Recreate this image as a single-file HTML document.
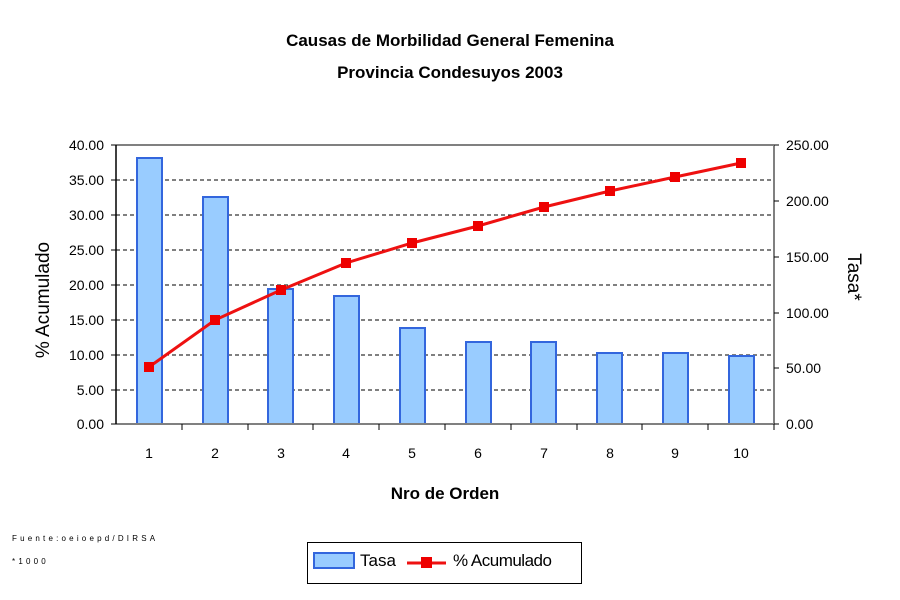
<!DOCTYPE html>
<html><head><style>body{margin:0;background:#fff}svg{display:block}text{font-family:"Liberation Sans",Arial,sans-serif}</style></head>
<body>
<svg width="900" height="600" viewBox="0 0 900 600">
<text x="450" y="46" font-size="17" font-weight="bold" text-anchor="middle">Causas de Morbilidad General Femenina</text>
<text x="450" y="78" font-size="17" font-weight="bold" text-anchor="middle">Provincia Condesuyos 2003</text>
<g stroke="#000" stroke-dasharray="4,3" stroke-width="1">
<line x1="116" y1="180" x2="774" y2="180"/><line x1="116" y1="215" x2="774" y2="215"/><line x1="116" y1="250" x2="774" y2="250"/><line x1="116" y1="285" x2="774" y2="285"/><line x1="116" y1="320" x2="774" y2="320"/><line x1="116" y1="355" x2="774" y2="355"/><line x1="116" y1="390" x2="774" y2="390"/>
</g>
<g fill="#99ccff" stroke="#3366dd" stroke-width="2">
<rect x="137" y="158" width="25" height="266"/>
<rect x="203" y="197" width="25" height="227"/>
<rect x="268" y="289" width="25" height="135"/>
<rect x="334" y="296" width="25" height="128"/>
<rect x="400" y="328" width="25" height="96"/>
<rect x="466" y="342" width="25" height="82"/>
<rect x="531" y="342" width="25" height="82"/>
<rect x="597" y="353" width="25" height="71"/>
<rect x="663" y="353" width="25" height="71"/>
<rect x="729" y="356" width="25" height="68"/>
</g>
<line x1="116" y1="145" x2="774" y2="145" stroke="#808080" stroke-width="2"/>
<line x1="116" y1="424" x2="774" y2="424" stroke="#808080" stroke-width="2"/>
<line x1="774" y1="145" x2="774" y2="424" stroke="#808080" stroke-width="2"/>
<line x1="116" y1="145" x2="116" y2="424" stroke="#000" stroke-width="1.5"/>
<g stroke="#000" stroke-width="1">
<line x1="111" y1="145" x2="116" y2="145"/><line x1="111" y1="180" x2="116" y2="180"/><line x1="111" y1="215" x2="116" y2="215"/><line x1="111" y1="250" x2="116" y2="250"/><line x1="111" y1="285" x2="116" y2="285"/><line x1="111" y1="320" x2="116" y2="320"/><line x1="111" y1="355" x2="116" y2="355"/><line x1="111" y1="390" x2="116" y2="390"/><line x1="111" y1="424" x2="116" y2="424"/>
<line x1="774" y1="145" x2="779" y2="145"/><line x1="774" y1="201" x2="779" y2="201"/><line x1="774" y1="257" x2="779" y2="257"/><line x1="774" y1="313" x2="779" y2="313"/><line x1="774" y1="368" x2="779" y2="368"/><line x1="774" y1="424" x2="779" y2="424"/>
<line x1="182" y1="424" x2="182" y2="430"/><line x1="248" y1="424" x2="248" y2="430"/><line x1="313" y1="424" x2="313" y2="430"/><line x1="379" y1="424" x2="379" y2="430"/><line x1="445" y1="424" x2="445" y2="430"/><line x1="511" y1="424" x2="511" y2="430"/><line x1="577" y1="424" x2="577" y2="430"/><line x1="642" y1="424" x2="642" y2="430"/><line x1="708" y1="424" x2="708" y2="430"/><line x1="774" y1="424" x2="774" y2="430"/>
</g>
<g font-size="14" text-anchor="end">
<text x="104" y="150">40.00</text><text x="104" y="185">35.00</text><text x="104" y="220">30.00</text><text x="104" y="255">25.00</text><text x="104" y="290">20.00</text><text x="104" y="325">15.00</text><text x="104" y="360">10.00</text><text x="104" y="395">5.00</text><text x="104" y="429">0.00</text>
</g>
<g font-size="14">
<text x="786" y="150">250.00</text><text x="786" y="206">200.00</text><text x="786" y="262">150.00</text><text x="786" y="318">100.00</text><text x="786" y="373">50.00</text><text x="786" y="429">0.00</text>
</g>
<g font-size="14" text-anchor="middle">
<text x="149" y="458">1</text><text x="215" y="458">2</text><text x="281" y="458">3</text><text x="346" y="458">4</text><text x="412" y="458">5</text><text x="478" y="458">6</text><text x="544" y="458">7</text><text x="610" y="458">8</text><text x="675" y="458">9</text><text x="741" y="458">10</text>
</g>
<text x="445" y="499" font-size="17" font-weight="bold" text-anchor="middle">Nro de Orden</text>
<text transform="translate(49,300) rotate(-90)" font-size="19" text-anchor="middle">% Acumulado</text>
<text transform="translate(848,277) rotate(90)" font-size="19" text-anchor="middle">Tasa*</text>
<polyline fill="none" stroke="#ee1111" stroke-width="3" points="149,367 215,320 281,290 346,263 412,243 478,226 544,207 610,191 675,177 741,163"/>
<g fill="#ee0000">
<rect x="144" y="362" width="10" height="10"/><rect x="210" y="315" width="10" height="10"/><rect x="276" y="285" width="10" height="10"/><rect x="341" y="258" width="10" height="10"/><rect x="407" y="238" width="10" height="10"/><rect x="473" y="221" width="10" height="10"/><rect x="539" y="202" width="10" height="10"/><rect x="605" y="186" width="10" height="10"/><rect x="670" y="172" width="10" height="10"/><rect x="736" y="158" width="10" height="10"/>
</g>
<text x="12" y="541" font-size="8" letter-spacing="3.2">Fuente:oeioepd/DIRSA</text>
<text x="12" y="564" font-size="8" letter-spacing="3.2">*1000</text>
<rect x="307.5" y="542.5" width="274" height="41" fill="#fff" stroke="#000" stroke-width="1"/>
<rect x="314" y="553" width="40" height="15" fill="#99ccff" stroke="#3366dd" stroke-width="2"/>
<text x="360" y="566" font-size="17">Tasa</text>
<line x1="407" y1="563" x2="446" y2="563" stroke="#ee1111" stroke-width="3"/>
<rect x="421" y="557" width="11" height="11" fill="#ee0000"/>
<text x="453" y="566" font-size="17" letter-spacing="-0.5">% Acumulado</text>
</svg>
</body></html>
